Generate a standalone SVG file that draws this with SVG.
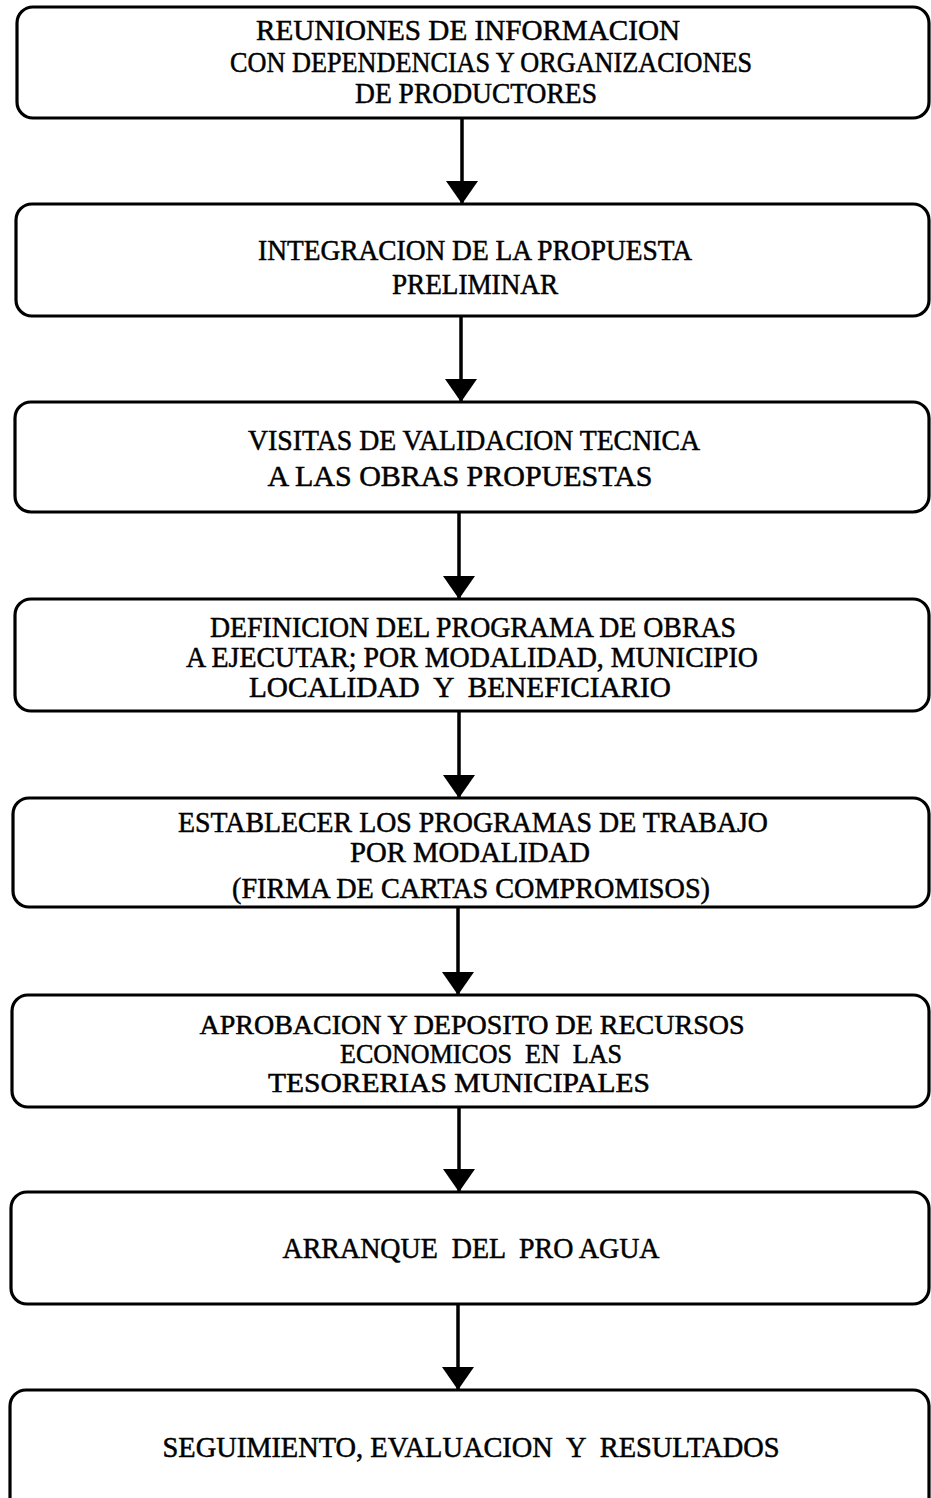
<svg xmlns="http://www.w3.org/2000/svg" width="931" height="1498" viewBox="0 0 931 1498">
<style>
.box{fill:none;stroke:#000;stroke-width:3.2}
.t{font-family:"Liberation Serif","Times New Roman",serif;font-size:29px;fill:#000;stroke:#000;stroke-width:0.5;text-anchor:middle;white-space:pre}
.s{font-size:27px}
.ln{stroke:#000;stroke-width:3.5;fill:none}
</style>
<defs>
<marker id="ah" markerUnits="userSpaceOnUse" markerWidth="24" markerHeight="32" refX="23" refY="16" orient="auto" viewBox="0 0 24 32"><path d="M0,0 L23,16 L0,32 Z" fill="#000"/></marker>
</defs>
<rect width="931" height="1498" fill="#fff"/>
<g id="n1"><rect class="box" x="17" y="7" width="912" height="111" rx="16"/>
<text class="t" x="468" y="40" textLength="424" lengthAdjust="spacingAndGlyphs">REUNIONES DE INFORMACION</text>
<text class="t" x="491" y="72" textLength="522" lengthAdjust="spacingAndGlyphs">CON DEPENDENCIAS Y ORGANIZACIONES</text>
<text class="t" x="476" y="103" textLength="242" lengthAdjust="spacingAndGlyphs">DE PRODUCTORES</text></g>
<g id="n2"><rect class="box" x="16" y="204" width="913" height="112" rx="16"/>
<text class="t" x="475" y="260" textLength="434" lengthAdjust="spacingAndGlyphs">INTEGRACION DE LA PROPUESTA</text>
<text class="t" x="475" y="294" textLength="166" lengthAdjust="spacingAndGlyphs">PRELIMINAR</text></g>
<g id="n3"><rect class="box" x="15" y="402" width="914" height="110" rx="16"/>
<text class="t" x="474" y="450" textLength="452" lengthAdjust="spacingAndGlyphs">VISITAS DE VALIDACION TECNICA</text>
<text class="t" x="460" y="486" textLength="385" lengthAdjust="spacingAndGlyphs">A LAS OBRAS PROPUESTAS</text></g>
<g id="n4"><rect class="box" x="15" y="599" width="914" height="112" rx="16"/>
<text class="t" x="473" y="637" textLength="526" lengthAdjust="spacingAndGlyphs">DEFINICION DEL PROGRAMA DE OBRAS</text>
<text class="t" x="472" y="667" textLength="572" lengthAdjust="spacingAndGlyphs">A EJECUTAR; POR MODALIDAD, MUNICIPIO</text>
<text class="t" x="460" y="697" textLength="422" lengthAdjust="spacingAndGlyphs">LOCALIDAD  Y  BENEFICIARIO</text></g>
<g id="n5"><rect class="box" x="13" y="798" width="916" height="109" rx="16"/>
<text class="t" x="473" y="832" textLength="590" lengthAdjust="spacingAndGlyphs">ESTABLECER LOS PROGRAMAS DE TRABAJO</text>
<text class="t" x="470" y="862" textLength="240" lengthAdjust="spacingAndGlyphs">POR MODALIDAD</text>
<text class="t" x="471" y="898" textLength="478" lengthAdjust="spacingAndGlyphs">(FIRMA DE CARTAS COMPROMISOS)</text></g>
<g id="n6"><rect class="box" x="12" y="995" width="917" height="112" rx="16"/>
<text class="t s" x="472" y="1034" textLength="545" lengthAdjust="spacingAndGlyphs">APROBACION Y DEPOSITO DE RECURSOS</text>
<text class="t s" x="481" y="1063" textLength="282" lengthAdjust="spacingAndGlyphs">ECONOMICOS  EN  LAS</text>
<text class="t s" x="459" y="1092" textLength="382" lengthAdjust="spacingAndGlyphs">TESORERIAS MUNICIPALES</text></g>
<g id="n7"><rect class="box" x="11" y="1192" width="918" height="112" rx="16"/>
<text class="t" x="471" y="1258" textLength="377" lengthAdjust="spacingAndGlyphs">ARRANQUE  DEL  PRO AGUA</text></g>
<g id="n8"><rect class="box" x="10" y="1390" width="919" height="130" rx="16"/>
<text class="t" x="471" y="1457" textLength="617" lengthAdjust="spacingAndGlyphs">SEGUIMIENTO, EVALUACION  Y  RESULTADOS</text></g>
<g id="connectors">
<line class="ln" x1="462" y1="118" x2="462" y2="204" marker-end="url(#ah)"/>
<line class="ln" x1="461" y1="316" x2="461" y2="402" marker-end="url(#ah)"/>
<line class="ln" x1="459" y1="512" x2="459" y2="599" marker-end="url(#ah)"/>
<line class="ln" x1="459" y1="711" x2="459" y2="798" marker-end="url(#ah)"/>
<line class="ln" x1="458" y1="907" x2="458" y2="995" marker-end="url(#ah)"/>
<line class="ln" x1="459" y1="1107" x2="459" y2="1192" marker-end="url(#ah)"/>
<line class="ln" x1="458" y1="1304" x2="458" y2="1390" marker-end="url(#ah)"/>
</g>
</svg>
